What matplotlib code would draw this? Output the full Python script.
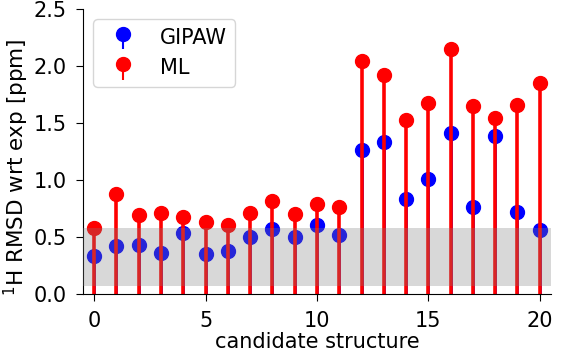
import numpy as np
import matplotlib
matplotlib.use('Agg')
import matplotlib.pyplot as plt
from matplotlib.container import StemContainer
from matplotlib.legend_handler import HandlerStem

# Datos
estructuras = list(range(21))
gipaw = [0.33, 0.42, 0.43, 0.36, 0.54, 0.35, 0.38, 0.50, 0.57, 0.50, 0.61,
         0.52, 1.26, 1.33, 0.83, 1.01, 1.41, 0.76, 1.39, 0.72, 0.56]
ml = [0.58, 0.875, 0.69, 0.71, 0.68, 0.63, 0.61, 0.71, 0.82, 0.70, 0.79,
      0.76, 2.04, 1.92, 1.53, 1.68, 2.15, 1.65, 1.54, 1.66, 1.85]
banda = (0.07, 0.58)

plt.rcParams['font.size'] = 15

fig = plt.figure(figsize=(5.61, 3.6), dpi=100)
ax = fig.add_subplot(111)
fig.subplots_adjust(left=0.148, right=0.982, top=0.975, bottom=0.183)

# GIPAW primero, ML encima
m1, s1, b1 = ax.stem(estructuras, gipaw, linefmt='b-', markerfmt='bo', basefmt=' ', label='GIPAW')
m2, s2, b2 = ax.stem(estructuras, ml, linefmt='r-', markerfmt='ro', basefmt=' ', label='ML')
for m in (m1, m2):
    m.set_markersize(10)
s1.set_linewidth(2.0)
s2.set_linewidth(2.6)

# Banda gris por encima
ax.axhspan(banda[0], banda[1], color='gray', alpha=0.3, lw=0, zorder=5)

ax.set_xlim(-0.5, 20.5)
ax.set_ylim(0, 2.5)
ax.set_xticks([0, 5, 10, 15, 20])
ax.tick_params(length=5, pad=7)
ax.set_xlabel('candidate structure', labelpad=1)
ax.set_ylabel('$^1$H RMSD wrt exp [ppm]', fontsize=15.5)
ax.yaxis.set_label_coords(-0.112, 0.445)
ax.spines['top'].set_visible(False)
ax.spines['right'].set_visible(False)
ax.legend(loc='upper left', labelspacing=0.5,
          handler_map={StemContainer: HandlerStem(bottom=-4)})

fig.savefig('out.png', dpi=100)
